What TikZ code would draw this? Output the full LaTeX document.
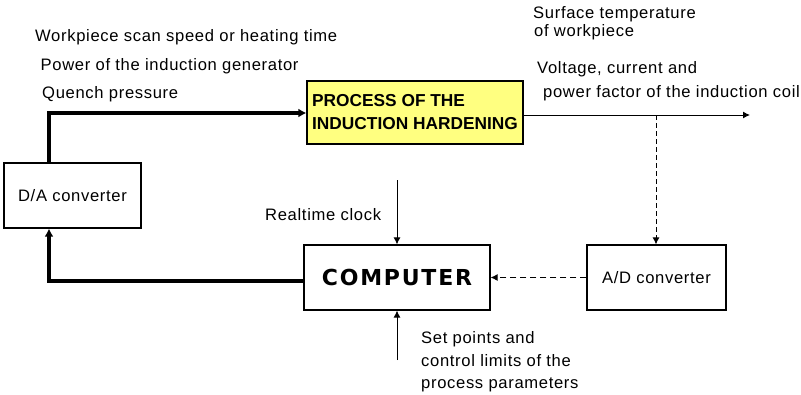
\documentclass[tikz,border=0pt]{standalone}
\usepackage{fontspec}
\setmainfont{Liberation Sans}
\newfontfamily\lblfont[LetterSpace=4]{Liberation Sans}
\newfontfamily\compfont[LetterSpace=8]{DejaVu Sans}
\usetikzlibrary{arrows.meta}
\definecolor{procyellow}{RGB}{255,255,128}
\tikzset{
  lbl/.style={inner sep=0pt, font=\lblfont\fontsize{16.6}{22}\selectfont, anchor=base west},
  boxstyle/.style={draw=black, line width=1.2pt, inner sep=0pt},
  thin/.style={line width=1pt},
  thick line/.style={line width=3.6pt},
  thinarrow/.style={thin, -{Latex[length=7pt,width=7pt]}},
  thickarrow/.style={thick line, -{Latex[length=8pt,width=9pt]}},
  dasharrow/.style={thin, dash pattern=on 6pt off 4pt, -{Latex[length=7pt,width=7pt]}},
}
\begin{document}
\begin{tikzpicture}[x=1pt,y=-1pt]
\useasboundingbox (0,0) rectangle (801,394);
% boxes
\node[boxstyle, fill=procyellow, minimum width=216pt, minimum height=63pt, align=left,
  font=\bfseries\fontsize{17.3}{23}\selectfont] (proc) at (415,112.5) {PROCESS OF THE\\INDUCTION HARDENING};
\node[boxstyle, minimum width=186pt, minimum height=65pt, font=\compfont\bfseries\fontsize{22}{24}\selectfont] (comp) at (397,277.5) {COMPUTER};
\node[boxstyle, minimum width=137pt, minimum height=65pt, font=\lblfont\fontsize{16.6}{22}\selectfont] (da) at (72.5,195.5) {D/A converter};
\node[boxstyle, minimum width=139pt, minimum height=65pt, font=\lblfont\fontsize{16.6}{22}\selectfont] (ad) at (656.5,277.5) {A/D converter};
% labels
\node[lbl] (l1) at (35,41.5) {Workpiece scan speed or heating time};
\node[lbl] (l2) at (40.5,70) {Power of the induction generator};
\node[lbl] (l3) at (42,98) {Quench pressure};
\node[lbl] (l4) at (533,18.5) {Surface temperature};
\node[lbl] (l5) at (534,36) {of workpiece};
\node[lbl] (l6) at (537,73) {Voltage, current and};
\node[lbl] (l7) at (543,97) {power factor of the induction coil};
\node[lbl] (l8) at (265,220) {Realtime clock};
\node[lbl] (l9) at (421,343) {Set points and};
\node[lbl] (l10) at (421,366) {control limits of the};
\node[lbl] (l11) at (421,388) {process parameters};
% coordinates
\coordinate (out) at (750,115);
\coordinate (tap) at (656,115);
\coordinate (clk) at (397,180);
\coordinate (setp) at (397,360);
\coordinate (c1) at (49,113);
\coordinate (c2) at (49,281);
% connectors
\draw[thickarrow] (da.north -| c1) -- (c1) -- (c1 -| proc.west);
\draw[thickarrow] (comp.west |- c2) -- (c2) -- (c2 |- da.south);
\draw[thinarrow] (proc.east |- out) -- (out);
\draw[dasharrow, dash pattern=on 5pt off 3pt] (tap) -- (tap |- ad.north);
\draw[dasharrow] (ad.west) -- (comp.east);
\draw[thinarrow] (clk) -- (clk |- comp.north);
\draw[thinarrow] (setp) -- (setp |- comp.south);
\end{tikzpicture}
\end{document}
